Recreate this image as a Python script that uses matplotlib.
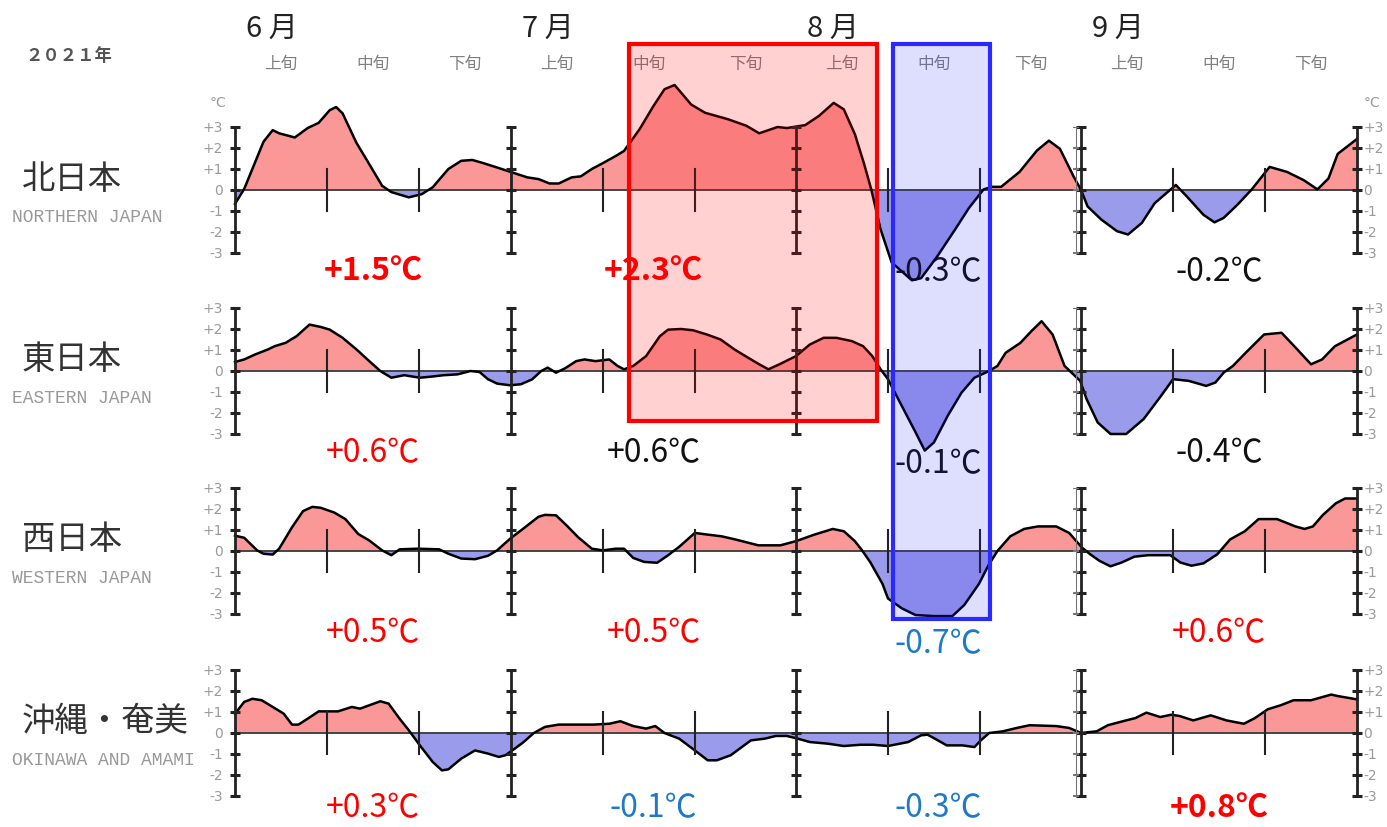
import matplotlib
matplotlib.use("Agg")
import matplotlib.pyplot as plt
import matplotlib.transforms as mtransforms
from matplotlib.patches import Rectangle
import numpy as np

plt.rcParams['font.family'] = ['Noto Sans CJK JP', 'DejaVu Sans']

# day 0 = 1 June, day 122 = end of 30 Sept (5-day running mean anomaly, degC)
MONTH_STARTS = [0, 30, 61, 92, 122]
MONTH_NAMES = ["6 月", "7 月", "8 月", "9 月"]
DEKAD_STARTS = [0, 10, 20, 30, 40, 50, 61, 71, 81, 92, 102, 112, 122]
DEKAD_NAMES = ["上旬", "中旬", "下旬"] * 4

REGIONS_JA = ["北日本", "東日本", "西日本", "沖縄・奄美"]
REGIONS_EN = ["NORTHERN JAPAN", "EASTERN JAPAN", "WESTERN JAPAN", "OKINAWA AND AMAMI"]

north = [(0, -0.66), (1, 0.05), (3.1, 2.3), (4.1, 2.85), (4.8, 2.7), (6.5, 2.5), (7.9, 2.95),
         (9.1, 3.2), (10.3, 3.8), (11, 3.95), (11.7, 3.65), (13.2, 2.25), (14.6, 1.23), (16, 0.2),
         (17, -0.1), (18.9, -0.35), (20.3, -0.2), (21.5, 0.13), (23.2, 1.0), (24.6, 1.39),
         (25.8, 1.43), (27, 1.28), (28.5, 1.07), (29.9, 0.87), (31.8, 0.6), (33, 0.52),
         (34.2, 0.31), (35.2, 0.31), (36.6, 0.6), (37.6, 0.65), (38.8, 1.0), (40, 1.28),
         (41.4, 1.62), (42.3, 1.86), (44, 2.9), (45.5, 4.0), (46.7, 4.8), (47.8, 5.0),
         (49.6, 4.07), (51.1, 3.68), (53.6, 3.37), (55.6, 3.06), (57, 2.7), (59, 3.0), (60, 2.95),
         (62, 3.09), (63.5, 3.53), (65.1, 4.15), (66.2, 3.84), (67.4, 2.66), (68.4, 1.25),
         (69.2, 0), (70.2, -1.88), (71.4, -3.45), (73.6, -4.3), (74.6, -4.2), (76.3, -3.2),
         (78.3, -1.88), (79.8, -0.86), (81.4, 0.03), (82.3, 0.15), (83.3, 0.15), (85.3, 0.86),
         (87.2, 1.88), (88.5, 2.35), (89.7, 1.96), (91.2, 0.63), (92, 0), (92.7, -0.78),
         (94.2, -1.41), (95.9, -1.96), (97.1, -2.12), (98.6, -1.57), (100, -0.63), (102.3, 0.24),
         (103.5, -0.31), (105.3, -1.18), (106.5, -1.54), (107.5, -1.33), (109, -0.7), (110.5, 0),
         (112.5, 1.1), (114.4, 0.86), (116.2, 0.47), (117.7, 0.03), (118.9, 0.55), (119.9, 1.72),
         (122, 2.43)]

east = [(0, 0.43), (1, 0.55), (2.2, 0.79), (3.6, 1.03), (4.3, 1.18), (5.5, 1.34), (6.7, 1.66),
        (8.1, 2.21), (9.3, 2.1), (10.3, 1.97), (11.7, 1.58), (13.2, 1.03), (14.6, 0.47), (15.8, 0),
        (17, -0.32), (18.4, -0.2), (20.1, -0.32), (21.3, -0.27), (22.7, -0.2), (24.2, -0.16),
        (25.6, 0), (26.6, -0.05), (27.5, -0.39), (28.5, -0.6), (29.9, -0.68), (31.1, -0.63),
        (32.3, -0.4), (33.3, 0), (34, 0.16), (34.9, -0.08), (35.9, 0.13), (37.1, 0.47), (38, 0.55),
        (39.2, 0.47), (40.7, 0.55), (41.6, 0.24), (42.3, 0.08), (43.3, 0.24), (44.7, 0.71),
        (46.2, 1.66), (47.1, 1.97), (48.5, 2.0), (49.8, 1.94), (51.3, 1.74), (52.8, 1.5),
        (54.3, 1.03), (55.8, 0.63), (57, 0.32), (58, 0.08), (59.2, 0.32), (61, 0.71), (62.5, 1.26),
        (64, 1.58), (65.4, 1.58), (67.1, 1.42), (68.3, 1.18), (69.3, 0.71), (70.2, 0.08),
        (71, -0.39), (72.5, -1.66), (74, -2.92), (75, -3.79), (76, -3.4), (77.5, -2.13),
        (79, -1.03), (80.4, -0.32), (82, 0), (82.9, 0.24), (83.8, 0.87), (85.4, 1.34), (86.6, 1.9),
        (87.7, 2.37), (88.9, 1.74), (90.2, 0.24), (91.9, -0.47), (92.6, -1.34), (93.8, -2.45),
        (95.2, -3.0), (96.9, -3.0), (98.8, -2.29), (100.7, -1.18), (102, -0.39), (103.7, -0.47),
        (105.6, -0.71), (106.6, -0.55), (107.5, -0.08), (108.5, 0.24), (109.9, 0.87),
        (111.9, 1.74), (113.8, 1.82), (115.5, 1.03), (117, 0.32), (118.2, 0.55), (119.6, 1.18),
        (122, 1.74)]

west = [(0, 0.73), (1, 0.63), (2.4, 0.03), (3.1, -0.13), (4.1, -0.17), (4.8, 0.11), (6.2, 1.13),
        (7.4, 1.9), (8.4, 2.1), (9.3, 2.06), (10.8, 1.83), (12, 1.52), (13.4, 0.81), (14.6, 0.5),
        (16, 0.03), (17, -0.2), (17.9, 0.08), (19.9, 0.11), (22.2, 0.08), (23.2, -0.13),
        (24.6, -0.36), (26.1, -0.39), (27.5, -0.23), (28.5, 0.03), (29.9, 0.58), (31.3, 1.05),
        (33, 1.63), (33.7, 1.72), (34.9, 1.7), (36.1, 1.2), (37.3, 0.66), (38.8, 0.11), (40, 0.03),
        (41.4, 0.11), (42.3, 0.11), (43.3, -0.33), (44.5, -0.52), (45.9, -0.56), (47.1, -0.2),
        (48.3, 0.2), (50, 0.86), (51.4, 0.78), (52.9, 0.7), (54.4, 0.55), (56.9, 0.27),
        (59.3, 0.27), (61, 0.47), (63, 0.78), (65, 1.05), (66.2, 0.94), (67.4, 0.47), (68.1, 0.08),
        (69.1, -0.55), (70.4, -1.56), (71, -2.26), (72.5, -2.73), (74, -3.05), (76, -3.1),
        (78, -3.1), (79.3, -2.57), (80.9, -1.56), (81.9, -0.7), (82.9, 0), (84.3, 0.7),
        (85.8, 1.05), (87.3, 1.17), (89.3, 1.17), (90.7, 0.86), (92.1, 0.16), (93, -0.16),
        (94, -0.47), (95.2, -0.73), (96.4, -0.55), (97.8, -0.27), (99.3, -0.2), (101.7, -0.2),
        (102.8, -0.55), (104, -0.7), (105.3, -0.59), (106.8, -0.16), (108.2, 0.55), (109.8, 0.94),
        (111.3, 1.52), (113.3, 1.52), (115.3, 1.17), (116.3, 1.05), (117.2, 1.17), (118.3, 1.72),
        (119.7, 2.27), (120.7, 2.5), (122, 2.5)]

okinawa = [(0, 0.92), (1, 1.48), (1.9, 1.63), (2.9, 1.56), (4.1, 1.24), (5.3, 0.92), (6.2, 0.4),
           (6.9, 0.4), (7.9, 0.68), (9.1, 1.03), (11.2, 1.03), (12.7, 1.24), (13.6, 1.16),
           (14.6, 1.32), (15.8, 1.51), (16.7, 1.4), (17.9, 0.68), (18.9, 0.13), (20.1, -0.59),
           (21.5, -1.38), (22.5, -1.78), (23.2, -1.73), (24.6, -1.22), (26.1, -0.83), (27.5, -0.98),
           (28.7, -1.14), (29.4, -1.06), (30.4, -0.75), (31.3, -0.46), (32.5, 0), (33.7, 0.29),
           (35.2, 0.4), (37.1, 0.4), (39, 0.4), (40.7, 0.44), (41.9, 0.56), (43.3, 0.33),
           (44.7, 0.21), (45.7, 0.33), (46.7, 0), (48.3, -0.27), (49, -0.5), (50, -0.83),
           (51.4, -1.3), (52.4, -1.3), (53.9, -1.06), (56.1, -0.35), (57.6, -0.27), (58.8, -0.14),
           (60, -0.14), (61.2, -0.27), (62.5, -0.43), (64.5, -0.51), (66.2, -0.62), (68, -0.56),
           (69.4, -0.56), (71, -0.62), (73.2, -0.43), (74.6, -0.11), (75.3, -0.08), (76.1, -0.27),
           (77.4, -0.59), (79.1, -0.59), (80.4, -0.67), (81.1, -0.35), (82, 0), (83.5, 0.08),
           (85, 0.24), (86.4, 0.37), (89.3, 0.33), (90.7, 0.24), (92, 0), (93.7, 0.08),
           (94.9, 0.37), (96.9, 0.6), (97.9, 0.71), (99.1, 0.97), (100.6, 0.76), (101.8, 0.87),
           (102.7, 0.81), (104.2, 0.6), (106.1, 0.84), (107.8, 0.6), (109.7, 0.44), (110.9, 0.71),
           (112.3, 1.13), (113.7, 1.32), (115.1, 1.56), (117, 1.56), (119.2, 1.83), (119.9, 1.76),
           (122, 1.6)]

SERIES = [north, east, west, okinawa]

MONTH_MEANS = [["+1.5℃", "+2.3℃", "-0.3℃", "-0.2℃"],
               ["+0.6℃", "+0.6℃", "-0.1℃", "-0.4℃"],
               ["+0.5℃", "+0.5℃", "-0.7℃", "+0.6℃"],
               ["+0.3℃", "-0.1℃", "-0.3℃", "+0.8℃"]]
MEAN_COLORS = [["r", "r", "k", "k"],
               ["r", "k", "k", "k"],
               ["r", "r", "b", "r"],
               ["r", "b", "b", "r"]]
MEAN_BOLD = [[True, True, False, False],
             [False, False, False, False],
             [False, False, False, False],
             [False, False, False, True]]

# highlighted periods (day ranges)
RED_PERIOD = (42.8, 69.8)
BLUE_PERIOD = (71.5, 82.1)

COLS = {"r": "#ff0000", "k": "#111111", "b": "#1f78c8"}
POS = "#fa9898"
NEG = "#9b9beb"

W, H = 1387, 828
X0, X1 = 235, 1357
ZEROS = [191, 372, 552, 734]
PXD = 21.0


def main():
    fig = plt.figure(figsize=(W / 100, H / 100), dpi=100)
    axes = []
    for i, data in enumerate(SERIES):
        z = ZEROS[i]
        ax = fig.add_axes([X0 / W, (H - z - 3 * PXD) / H, (X1 - X0) / W, 6 * PXD / H])
        ax.set_xlim(0, 122)
        ax.set_ylim(-3, 3)
        ax.axis('off')
        d = np.array([p[0] for p in data])
        v = np.array([p[1] for p in data])
        ax.fill_between(d, v, 0, where=v >= 0, interpolate=True, color=POS, lw=0, clip_on=False)
        ax.fill_between(d, v, 0, where=v <= 0, interpolate=True, color=NEG, lw=0, clip_on=False)
        ax.plot([0, 122], [0, 0], color='#444444', lw=1.4, zorder=3)
        ax.plot(d, v, color='black', lw=1.8, clip_on=False, zorder=4)
        yk = np.arange(-3, 4)
        for m in MONTH_STARTS:
            ax.plot([m, m], [-3, 3], color='#222222', lw=2.0, zorder=5, clip_on=False)
            ax.plot([m] * len(yk), yk, ls='none', marker='_', ms=7, mew=2.2, color='#222222',
                    zorder=5, clip_on=False)
        ax.plot([91.4, 91.4], [-3, 3], color='#777777', lw=0.8, zorder=5)
        ax.plot([91.4] * len(yk), yk, ls='none', marker='_', ms=5, mew=1.5, color='#777777', zorder=5)
        for k in DEKAD_STARTS:
            if k not in MONTH_STARTS:
                ax.plot([k, k], [-1, 1], color='#222222', lw=1.5, zorder=5)
        for y in yk:
            lab = "+%d" % y if y > 0 else "%d" % y
            ax.text(-1.3, y, lab, ha='right', va='center', fontsize=10, color='#9a9a9a',
                    family='DejaVu Sans')
            ax.text(122.7, y, lab, ha='left', va='center', fontsize=10, color='#9a9a9a',
                    family='DejaVu Sans')
        for j in range(4):
            cx = (MONTH_STARTS[j] + MONTH_STARTS[j + 1]) / 2
            yy = -3.85 if i < 3 else -3.55
            if j == 2 and i in (1, 2):
                yy = -4.4
            ax.text(cx, yy, MONTH_MEANS[i][j], ha='center', va='center', fontsize=23,
                    color=COLS[MEAN_COLORS[i][j]],
                    weight='bold' if MEAN_BOLD[i][j] else 'normal')
        axes.append(ax)

    axes[0].text(-1.9, 4.2, "°C", ha='center', va='center', fontsize=10, color='#9a9a9a',
                 family='DejaVu Sans')
    axes[0].text(123.6, 4.2, "°C", ha='center', va='center', fontsize=10, color='#9a9a9a',
                 family='DejaVu Sans')

    ov = fig.add_axes([0, 0, 1, 1], zorder=10)
    ov.set_xlim(0, W)
    ov.set_ylim(H, 0)
    ov.axis('off')
    ov.patch.set_alpha(0)
    tr = mtransforms.blended_transform_factory(axes[0].transData, ov.transData)

    ov.text(25, 56, "２０２１年", ha='left', va='center', fontsize=12.5, color='#555555',
            weight='bold')
    for j, name in enumerate(MONTH_NAMES):
        cx = (DEKAD_STARTS[3 * j] + DEKAD_STARTS[3 * j + 1]) / 2
        ov.text(cx - 1, 29, name, transform=tr, ha='center', va='center', fontsize=21,
                color='#222222')
    for j, name in enumerate(DEKAD_NAMES):
        cx = (DEKAD_STARTS[j] + DEKAD_STARTS[j + 1]) / 2
        ov.text(cx, 64, name, transform=tr, ha='center', va='center', fontsize=12,
                color='#808080')

    for i in range(4):
        ov.text(22, ZEROS[i] - 12, REGIONS_JA[i], ha='left', va='center', fontsize=24,
                color='#333333')
        ov.text(12, ZEROS[i] + 27, REGIONS_EN[i], ha='left', va='center', fontsize=13,
                color='#999999', family='Liberation Mono')

    ov.add_patch(Rectangle((RED_PERIOD[0], 45), RED_PERIOD[1] - RED_PERIOD[0], 377, transform=tr,
                           facecolor=(1, 0, 0, 0.18), edgecolor='#ff0000', lw=3, zorder=10))
    ov.add_patch(Rectangle((BLUE_PERIOD[0], 45), BLUE_PERIOD[1] - BLUE_PERIOD[0], 575, transform=tr,
                           facecolor=(0.1, 0.1, 1, 0.14), edgecolor='#2a2aff', lw=3, zorder=10))

    fig.savefig("out.png", dpi=100)


if __name__ == "__main__":
    main()
